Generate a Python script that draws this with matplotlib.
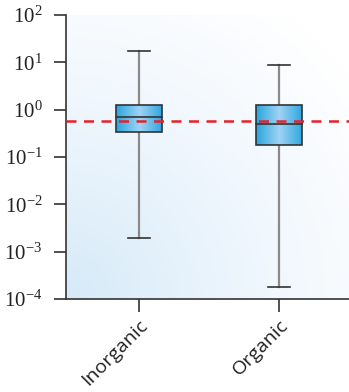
import numpy as np
import matplotlib.pyplot as plt
import matplotlib.transforms as mtransforms
from matplotlib.patches import Rectangle
from matplotlib.colors import LinearSegmentedColormap

# data
categories = ["Inorganic", "Organic"]
whisker_low = [1.9e-3, 1.8e-4]
q1 = [0.33, 0.176]
median = [0.71, 0.51]
q3 = [1.26, 1.25]
whisker_high = [17.4, 8.7]
reference_level = 0.59

fig = plt.figure(figsize=(3.49, 3.92), dpi=100)
ax = fig.add_axes([66/349, 1 - 299/392, 1 - 66/349, (299 - 15)/392])
ax.set_yscale('log')
ax.set_ylim(1e-4, 1e2)
ax.set_xlim(0.48, 2.5)

# background gradient: light blue bottom-left to white top-right
gx, gy = np.meshgrid(np.linspace(0, 1, 200), np.linspace(0, 1, 200))
d = np.clip(np.sqrt((gx * 0.9) ** 2 + (gy * 0.9) ** 2) / 1.15, 0, 1)
bg_cmap = LinearSegmentedColormap.from_list('bg', ['#d6eaf8', '#eef6fd', '#ffffff'])
ax.imshow(d, cmap=bg_cmap, extent=[0, 1, 0, 1], transform=ax.transAxes,
          origin='lower', aspect='auto', zorder=0)

box_cmap = LinearSegmentedColormap.from_list('box', ['#2ca7e0', '#9fd3f3', '#2ca7e0'])
grad = np.linspace(0, 1, 100).reshape(1, -1)
width = 0.33

for i, name in enumerate(categories):
    x = i + 1
    # whiskers
    ax.plot([x, x], [whisker_low[i], q1[i]], color='#8a8a8a', lw=1.6, zorder=2)
    ax.plot([x, x], [q3[i], whisker_high[i]], color='#8a8a8a', lw=1.6, zorder=2)
    ax.plot([x - 0.08, x + 0.08], [whisker_low[i]] * 2, color='#333333', lw=1.2, zorder=2)
    ax.plot([x - 0.08, x + 0.08], [whisker_high[i]] * 2, color='#333333', lw=1.2, zorder=2)
    # box with gradient fill
    rect = Rectangle((x - width / 2, q1[i]), width, q3[i] - q1[i],
                     facecolor='none', edgecolor='#333333', lw=1.2, zorder=4)
    ax.add_patch(rect)
    im = ax.imshow(grad, cmap=box_cmap, extent=[x - width / 2, x + width / 2, q1[i], q3[i]],
                   aspect='auto', zorder=3)
    im.set_clip_path(rect)
    ax.plot([x - width / 2, x + width / 2], [median[i]] * 2, color='#333333', lw=1.2, zorder=5)

ax.axhline(reference_level, color='#e8202a', lw=1.8, ls=(0, (4, 3)), zorder=6)

ax.set_xlim(0.48, 2.5)
ax.set_ylim(1e-4, 1e2)
ax.set_xticks([1, 2])
ax.set_xticklabels(categories, rotation=45, ha='right', va='top', rotation_mode='anchor',
                   fontsize=14, family='Open Sans', color='#222222')
offset = mtransforms.ScaledTranslation(12 / 100, -4 / 100, fig.dpi_scale_trans)
for lab in ax.get_xticklabels():
    lab.set_transform(lab.get_transform() + offset)
ax.set_yticks([10.0 ** k for k in range(-4, 3)])
ax.minorticks_off()
ax.tick_params(axis='y', labelsize=15, length=9, width=1.2, pad=8, color='#333333',
               labelcolor='#222222', labelfontfamily='Liberation Serif')
ax.tick_params(axis='x', length=9, width=1.2, color='#333333')
for s in ['top', 'right']:
    ax.spines[s].set_visible(False)
for s in ['left', 'bottom']:
    ax.spines[s].set_linewidth(1.2)
    ax.spines[s].set_color('#333333')

fig.savefig('out.png', dpi=100)
